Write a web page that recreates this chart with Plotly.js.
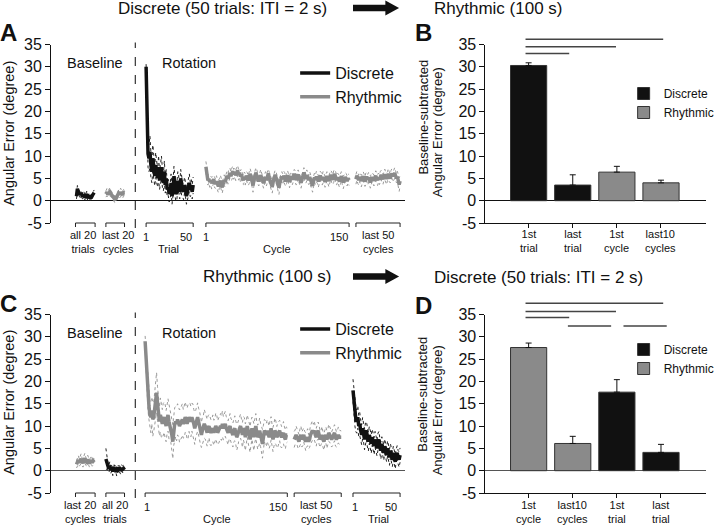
<!DOCTYPE html>
<html><head><meta charset="utf-8">
<script src="https://cdn.plot.ly/plotly-3.0.1.min.js"></script>
<style>html,body{margin:0;padding:0;background:#fff}</style>
</head><body><div id="chart" style="width:720px;height:525px"></div>
<script>
// ---------------- DATA ----------------
// Panel A: Discrete -> Rhythmic
const discBaseA = [1.0,2.7,2.0,1.6,1.3,1.7,1.1,0.9,1.4,0.7,1.1,1.5,0.6,1.0,1.2,0.5,0.8,1.0,1.5,1.8];
const seDiscBaseA = [0.6,0.7,0.6,0.5,0.6,0.5,0.6,0.5,0.6,0.5,0.5,0.6,0.5,0.6,0.5,0.6,0.5,0.6,0.5,0.6];
const rhyBaseA = [1.5,1.9,1.4,1.8,2.0,1.6,1.3,1.0,0.6,0.3,0.4,0.8,1.3,1.7,1.4,1.9,1.6,1.3,1.8,1.7];
const seRhyBaseA = [0.7,0.8,0.7,0.8,0.9,0.7,0.8,0.7,0.6,0.7,0.6,0.7,0.8,0.7,0.8,0.9,0.7,0.8,0.7,0.6];
const discRotA = [30.0,16.0,10.5,9.5,11.0,8.0,6.5,9.5,7.0,5.5,8.0,6.0,5.0,7.5,4.5,6.0,7.5,5.0,4.0,6.5,
  3.5,5.0,2.5,3.0,1.5,2.0,4.0,1.0,2.5,5.5,3.0,1.5,2.0,4.5,3.5,2.0,5.0,3.0,2.5,2.0,
  3.5,2.5,1.0,2.0,3.0,4.0,2.5,3.0,2.0,3.5];
const seDiscRotA = [0.6,2.5,3.0,3.0,3.5,2.8,2.5,3.0,2.5,2.2,2.8,2.4,2.0,2.6,2.0,2.2,2.5,2.0,1.8,2.4,
  1.8,2.0,1.6,1.8,1.8,1.6,2.0,1.8,1.8,2.2,1.8,1.6,1.8,2.0,1.8,1.6,2.0,1.8,1.6,1.8,
  1.8,1.6,1.8,1.6,1.8,2.0,1.6,1.8,1.6,1.8];
const rhyRotA = [7.6,5.8,4.6,4.9,4.2,4.5,3.9,4.4,4.8,4.1, 3.8,4.3,3.6,3.2,3.9,4.5,3.5,3.0,3.8,4.6,
  4.2,5.0,5.6,4.9,5.8,6.2,5.5,6.0,6.6,5.9, 6.4,5.7,6.1,6.8,5.8,6.3,5.4,5.9,5.0,4.6,
  5.3,4.8,5.6,5.1,4.5,5.2,6.0,5.4,4.2,3.4, 4.6,5.5,6.3,5.6,4.8,4.3,5.0,5.7,5.2,4.4,
  3.9,4.7,5.3,4.6,5.5,6.1,5.1,4.4,3.8,3.1, 4.2,5.0,5.8,5.2,4.5,3.7,2.9,4.1,4.9,5.4,
  4.8,5.6,5.0,4.3,5.1,5.7,4.9,4.2,5.0,5.5, 4.7,5.3,6.0,5.4,4.6,5.2,5.9,5.1,4.5,4.0,
  4.8,5.6,6.3,5.5,4.9,5.7,5.2,4.6,5.3,4.5, 3.8,3.3,4.4,5.2,4.7,5.4,4.9,4.3,5.0,5.6,
  5.1,4.6,5.3,4.8,4.2,4.9,5.5,5.0,4.4,5.1, 5.8,5.2,4.7,5.4,6.0,5.3,4.6,5.2,4.8,4.3,
  4.9,5.5,4.8,4.1,4.7,5.3,4.9,4.4,5.0,4.6];
const seRhyRotA = [1.2,1.0,1.1,0.9,1.2,1.0,1.3,1.1,0.9,1.2, 1.0,1.3,1.1,1.4,1.0,1.2,1.1,1.3,1.0,1.2,
  1.1,1.3,1.0,1.2,1.4,1.1,1.0,1.3,1.2,1.1, 1.0,1.2,1.3,1.1,1.2,1.0,1.3,1.1,1.2,1.0,
  1.1,1.3,1.0,1.2,1.1,1.4,1.2,1.0,1.3,1.5, 1.2,1.0,1.1,1.3,1.2,1.0,1.1,1.3,1.0,1.2,
  1.1,1.0,1.2,1.3,1.1,1.0,1.2,1.1,1.3,1.4, 1.2,1.1,1.0,1.2,1.3,1.1,1.5,1.2,1.0,1.1,
  1.2,1.0,1.3,1.1,1.2,1.0,1.1,1.3,1.2,1.0, 1.1,1.2,1.0,1.3,1.1,1.2,1.0,1.1,1.3,1.2,
  1.0,1.2,1.1,1.3,1.0,1.2,1.1,1.0,1.2,1.1, 1.3,1.4,1.2,1.0,1.1,1.2,1.0,1.3,1.1,1.0,
  1.2,1.1,1.3,1.0,1.2,1.1,1.0,1.2,1.3,1.1, 1.0,1.2,1.1,1.3,1.0,1.2,1.1,1.0,1.2,1.3,
  1.1,1.0,1.2,1.4,1.1,1.0,1.2,1.1,1.0,1.2];
const lastRhyA = [4.8,5.6,5.1,4.6,5.3,4.9,4.4,5.0,5.5,4.8, 4.3,4.9,5.4,4.7,5.2,4.6,4.1,4.8,5.3,4.9,
  4.5,5.1,5.6,5.0,4.6,5.2,4.7,5.3,5.8,5.2, 4.8,5.4,5.9,5.3,4.9,5.5,6.0,5.4,5.0,5.6,
  6.1,5.5,5.8,6.2,5.6,5.0,5.4,4.6,3.6,4.4];
const seLastRhyA = [1.1,1.0,1.2,1.1,1.0,1.2,1.3,1.1,1.0,1.2, 1.1,1.3,1.0,1.2,1.1,1.0,1.3,1.2,1.0,1.1,
  1.2,1.0,1.1,1.3,1.2,1.0,1.1,1.2,1.0,1.3, 1.1,1.0,1.2,1.1,1.3,1.0,1.2,1.1,1.0,1.2,
  1.1,1.3,1.0,1.2,1.1,1.0,1.2,1.3,1.5,1.2];

// Panel C: Rhythmic -> Discrete
const rhyBaseC = [1.4,2.0,2.4,1.8,2.2,2.7,2.0,1.7,2.3,2.8,2.1,1.9,2.5,2.2,1.6,2.0,2.4,1.8,2.2,1.9];
const seRhyBaseC = [0.8,0.9,1.0,0.8,0.9,1.1,0.8,0.9,1.0,1.1,0.9,0.8,1.0,0.9,0.8,0.9,1.0,0.8,0.9,0.8];
const discBaseC = [2.6,1.6,0.9,0.4,1.1,0.2,0.7,-0.2,0.8,0.3,0.6,-0.3,0.7,0.2,0.4,0.0,0.6,0.3,0.5,0.2];
const seDiscBaseC = [2.4,1.2,0.9,0.8,0.9,0.8,0.7,0.9,0.8,0.7,0.8,0.9,0.7,0.8,0.7,0.8,0.7,0.8,0.7,0.6];
const rhyRotC = [29.0,24.5,20.0,17.0,14.5,12.5,12.0,13.5,11.5,12.0, 14.0,16.5,17.5,15.0,12.0,11.0,12.5,11.0,10.5,11.5,
  12.0,11.0,10.0,11.5,12.5,11.0,10.0,9.5,8.0,6.5, 9.0,10.5,11.0,10.5,11.5,11.0,10.0,10.5,11.0,11.5,
  10.5,11.0,12.0,11.5,10.5,11.0,12.0,11.5,11.0,12.0, 11.5,10.5,9.5,10.5,11.5,12.0,11.0,10.0,9.0,8.0,
  9.0,9.5,10.5,10.0,9.0,8.5,9.5,10.0,9.0,8.5, 9.0,9.5,8.5,9.0,10.0,9.5,8.5,9.0,9.5,10.0,
  9.5,10.5,9.5,10.0,10.5,9.5,9.0,8.5,9.5,10.0, 9.0,8.5,8.0,9.0,9.5,8.5,7.5,8.0,9.0,9.5,
  10.0,9.0,8.0,9.5,9.0,7.5,8.5,10.0,9.0,8.0, 7.0,8.5,9.5,8.5,7.5,9.0,10.0,8.5,7.5,8.0,
  9.0,8.0,7.0,6.0,7.5,9.0,8.5,8.0,9.0,8.0, 7.5,8.5,9.5,8.0,7.0,8.0,9.0,8.5,7.5,8.0,
  8.5,9.0,8.0,7.5,8.0,8.5,7.5,7.0,8.0,8.0];
const seRhyRotC = [1.2,2.5,3.0,3.5,3.0,3.2,3.5,3.0,3.8,3.2, 3.5,4.0,4.5,3.8,3.5,3.2,3.8,3.5,3.2,3.6,
  3.4,3.8,3.5,3.2,3.6,3.9,3.4,3.2,3.5,3.8, 3.3,3.6,3.4,3.8,3.5,3.2,3.6,3.4,3.8,3.5,
  3.2,3.6,3.4,3.0,3.5,3.8,3.2,3.6,3.4,3.1, 3.5,3.2,3.6,3.0,3.4,3.2,3.0,3.4,3.1,2.8,
  3.0,2.8,3.2,2.9,2.7,3.0,2.8,2.6,3.1,2.9, 2.7,3.0,2.8,2.5,2.9,3.1,2.7,2.9,2.6,2.8,
  2.7,2.9,2.6,3.0,2.8,2.6,2.9,2.7,2.5,2.8, 2.6,2.9,2.7,2.5,2.8,2.6,2.9,2.7,2.5,2.8,
  2.7,2.5,2.8,2.6,2.9,3.0,2.7,2.5,2.8,2.6, 2.9,2.7,2.5,2.8,3.0,2.6,2.8,2.5,2.7,2.6,
  2.8,2.6,2.9,3.2,2.7,2.5,2.8,2.6,2.4,2.7, 2.5,2.8,2.6,2.4,2.7,2.5,2.8,2.6,2.4,2.7,
  2.5,2.3,2.6,2.4,2.2,2.5,2.3,2.1,1.8,1.6];
const lastRhyC = [7.0,7.5,8.0,7.5,7.0,6.5,7.5,8.0,7.0,7.5, 8.0,7.0,6.5,7.0,7.5,6.5,7.0,8.0,8.5,9.0,
  8.5,9.0,8.0,7.5,8.5,9.0,8.0,7.0,7.5,8.0, 7.0,6.5,7.5,8.0,7.0,7.5,8.5,8.0,7.5,7.0,
  7.5,8.0,8.5,7.5,7.0,7.5,8.0,7.5,7.5,7.5];
const seLastRhyC = [1.8,1.6,2.0,1.7,1.9,1.6,1.8,2.0,1.7,1.9, 1.6,1.8,2.0,1.7,1.9,1.6,1.8,2.1,2.0,2.2,
  1.9,2.1,1.8,2.0,1.7,1.9,2.1,1.8,1.6,1.9, 1.7,1.9,1.6,1.8,2.0,1.7,1.9,1.6,1.8,1.7,
  1.9,1.6,1.8,2.0,1.7,1.5,1.8,1.6,1.5,1.4];
const discRotC = [18.0,15.0,13.0,11.5,11.0,12.0,10.0,10.5,9.0,8.0, 9.5,8.5,7.0,8.5,9.0,7.5,6.5,8.0,7.0,6.0,
  7.5,6.5,5.5,7.0,6.0,5.0,6.5,7.0,5.5,4.5, 6.0,5.0,4.0,5.5,4.5,3.5,5.0,4.0,3.0,4.5,
  3.5,2.5,4.0,3.0,2.0,3.5,4.0,3.0,2.5,3.5];
const seDiscRotC = [2.5,3.5,3.0,2.8,2.6,2.5,2.4,2.6,2.3,2.2, 2.4,2.1,2.3,2.2,2.0,2.2,2.1,1.9,2.0,2.1,
  1.8,2.0,1.9,1.8,2.0,1.7,1.9,1.8,1.7,1.9, 1.6,1.8,1.7,1.6,1.8,1.5,1.7,1.6,1.8,1.5,
  1.7,1.6,1.5,1.7,1.6,1.4,1.6,1.5,1.7,1.6];

// Panel B bars
const catsB = ['1st<br>trial','last<br>trial','1st<br>cycle','last10<br>cycles'];
const discMeanB = [30.3, 3.5];
const discErrB = [0.6, 2.3];
const rhyMeanB = [6.4, 4.0];
const rhyErrB = [1.3, 0.6];
const sigPairsB = [[0,3],[0,2],[0,1]];
// Panel D bars
const catsD = ['1st<br>cycle','last10<br>cycles','1st<br>trial','last<br>trial'];
const rhyMeanD = [27.6, 6.1];
const rhyErrD = [1.0, 1.6];
const discMeanD = [17.6, 4.1];
const discErrD = [2.8, 1.8];
const sigPairsD = [[0,3],[0,2],[0,1],[1,2],[2,3]];
const yTicks = [-5, 0, 5, 10, 15, 20, 25, 30, 35];
const yTickText = ['-5', '0', '5', '10', '15', '20', '25', '30', '35'];

// ---------------- LAYOUT HELPERS ----------------
const W = 720, H = 525;
const FONT = 'Liberation Sans, Arial, Helvetica, sans-serif';
const px2x = p => p / W;
const px2y = p => 1 - p / H;
const rowA = {top: 44.5, bottom: 223};
const rowC = {top: 314.5, bottom: 493};
const BLACK = '#111111', GREY = '#8a8a8a', DOTGREY = '#9a9a9a';

function val2py(row, v) { return row.bottom - (v + 5) / 40 * (row.bottom - row.top); }

const traces = [];
function seg(vals, se, x0, x1, kind, xa, ya, legend, showLeg) {
  const n = vals.length;
  const xs = vals.map((_, i) => x0 + (x1 - x0) * i / (n - 1));
  const up = vals.map((v, i) => v + se[i]);
  const lo = vals.map((v, i) => v - se[i]);
  const col = kind === 'Discrete' ? BLACK : GREY;
  const dcol = kind === 'Discrete' ? '#222' : DOTGREY;
  [up, lo].forEach(arr => traces.push({type: 'scatter', mode: 'lines', x: xs, y: arr, xaxis: xa, yaxis: ya,
    line: {color: dcol, width: 1, dash: 'dot'}, showlegend: false, hoverinfo: 'skip'}));
  traces.push({type: 'scatter', mode: 'lines', x: xs, y: vals, xaxis: xa, yaxis: ya, name: kind,
    line: {color: col, width: 3.5}, legend: legend, showlegend: showLeg,
    legendrank: kind === 'Discrete' ? 1 : 2});
}

// Panel A segments (x in pixel-space of the panel axis)
seg(discBaseA, seDiscBaseA, 78, 96, 'Discrete', 'x', 'y', 'legend', false);
seg(rhyBaseA, seRhyBaseA, 108, 127, 'Rhythmic', 'x', 'y', 'legend', false);
seg(discRotA, seDiscRotA, 149, 197, 'Discrete', 'x', 'y', 'legend', true);
seg(rhyRotA, seRhyRotA, 210, 356, 'Rhythmic', 'x', 'y', 'legend', true);
seg(lastRhyA, seLastRhyA, 363, 408, 'Rhythmic', 'x', 'y', 'legend', false);
// Panel C segments
seg(rhyBaseC, seRhyBaseC, 78, 96, 'Rhythmic', 'x3', 'y3', 'legend3', false);
seg(discBaseC, seDiscBaseC, 108, 127, 'Discrete', 'x3', 'y3', 'legend3', false);
seg(rhyRotC, seRhyRotC, 148, 293, 'Rhythmic', 'x3', 'y3', 'legend3', true);
seg(lastRhyC, seLastRhyC, 300, 348, 'Rhythmic', 'x3', 'y3', 'legend3', false);
seg(discRotC, seDiscRotC, 360, 408, 'Discrete', 'x3', 'y3', 'legend3', true);

// Bars
function bars(x, y, err, kind, xa, ya, legend) {
  traces.push({type: 'bar', x: x, y: y, xaxis: xa, yaxis: ya, name: kind, legend: legend,
    width: 0.82, marker: {color: kind === 'Discrete' ? BLACK : GREY, line: {color: '#333', width: 1}},
    error_y: {type: 'data', symmetric: false, array: err, arrayminus: err.map(() => 0),
      color: '#111', thickness: 1, width: 3},
    legendrank: kind === 'Discrete' ? 1 : 2, hoverinfo: 'x+y'});
}
bars(catsB.slice(0, 2), discMeanB, discErrB, 'Discrete', 'x2', 'y2', 'legend2');
bars(catsB.slice(2, 4), rhyMeanB, rhyErrB, 'Rhythmic', 'x2', 'y2', 'legend2');
bars(catsD.slice(2, 4), discMeanD, discErrD, 'Discrete', 'x4', 'y4', 'legend4');
bars(catsD.slice(0, 2), rhyMeanD, rhyErrD, 'Rhythmic', 'x4', 'y4', 'legend4');

// ---------------- AXES ----------------
function yAxis(row, anchor, zc) {
  return {domain: [px2y(row.bottom), px2y(row.top)], range: [-5, 35], anchor: anchor,
    tickvals: yTicks, ticktext: yTickText, ticks: 'outside', ticklen: 5, tickcolor: '#111', showline: true, linecolor: '#111',
    linewidth: 1, zeroline: true, zerolinecolor: zc, zerolinewidth: 1.2, showgrid: false,
    tickfont: {size: 16, color: '#111', family: FONT}, fixedrange: true};
}
function lineX(anchor) {
  return {domain: [px2x(52), px2x(413)], range: [52, 413], anchor: anchor, visible: false,
    showgrid: false, zeroline: false, fixedrange: true};
}
function barX(anchor, cats) {
  return {domain: [px2x(495), 1], type: 'category', categoryorder: 'array', categoryarray: cats,
    range: [-0.98, 4.02], anchor: anchor, showline: true, linecolor: '#111', linewidth: 1,
    ticks: 'outside', ticklen: 4, tickcolor: '#111', showgrid: false, zeroline: false,
    showticklabels: false, fixedrange: true};
}

// ---------------- SHAPES ----------------
const shapes = [];
function bracket(xa, x0, x1, row) {
  const t = px2y(row.bottom), b = px2y(row.bottom + 4);
  shapes.push({type: 'path', xref: xa, yref: 'paper', path: `M${x0},${b} L${x0},${t} L${x1},${t} L${x1},${b}`,
    line: {color: '#222', width: 1}});
}
[[77, 97], [108, 127], [149, 197], [210, 356], [363, 408]].forEach(s => bracket('x', s[0], s[1], rowA));
[[77, 97], [108, 127], [148, 293], [300, 348], [360, 408]].forEach(s => bracket('x3', s[0], s[1], rowC));
// dashed separator
[['x', rowA], ['x3', rowC]].forEach(([xa, row]) => shapes.push({type: 'line', xref: xa, yref: 'paper',
  x0: 138, x1: 138, y0: px2y(row.bottom + 5), y1: px2y(row.top - 2), line: {color: '#333', width: 1.2, dash: 'dash'}}));
// significance lines
function sig(pairs, geom, xa, row) {
  pairs.forEach((p, i) => {
    const g = geom[i];
    const y = px2y(val2py(row, g.lvl));
    shapes.push({type: 'line', xref: xa, yref: 'paper', x0: p[0] + g.d0, x1: p[1] + g.d1, y0: y, y1: y,
      line: {color: '#444', width: 1.5}});
  });
}
sig(sigPairsB, [{lvl: 36.2, d0: -0.07, d1: 0.05}, {lvl: 34.5, d0: -0.07, d1: -0.02}, {lvl: 33.0, d0: -0.07, d1: -0.08}], 'x2', rowA);
sig(sigPairsD, [{lvl: 37.5, d0: -0.07, d1: 0.05}, {lvl: 35.7, d0: -0.07, d1: -0.02}, {lvl: 34.3, d0: -0.07, d1: -0.08},
  {lvl: 32.4, d0: -0.11, d1: -0.13}, {lvl: 32.4, d0: 0.15, d1: 0.13}], 'x4', rowC);
// arrows
function arrow(cy) {
  const p = (x, y) => `${px2x(x)},${px2y(y)}`;
  shapes.push({type: 'path', xref: 'paper', yref: 'paper', fillcolor: '#111', line: {width: 0},
    path: `M${p(360, cy - 3.2)} L${p(393, cy - 3.2)} L${p(393, cy - 7.5)} L${p(407, cy)} L${p(393, cy + 7.5)} L${p(393, cy + 3.2)} L${p(360, cy + 3.2)} Z`});
}
arrow(8); arrow(276.5);

// ---------------- ANNOTATIONS ----------------
const ann = [];
function txt(text, x, y, size, opts) {
  ann.push(Object.assign({text: text, x: px2x(x), y: px2y(y), xref: 'paper', yref: 'paper', showarrow: false,
    xanchor: 'center', yanchor: 'middle', font: {size: size, color: '#111', family: FONT}}, opts || {}));
}
// top titles
txt('Discrete (50 trials: ITI = 2 s)', 227, 8, 17);
txt('Rhythmic (100 s)', 508, 8, 17);
txt('Rhythmic (100 s)', 272, 276, 17);
txt('Discrete (50 trials: ITI = 2 s)', 549, 277, 17);
// panel letters
[['A', 9, 32], ['B', 432, 32], ['C', 9, 303], ['D', 432, 305]].forEach(l =>
  txt('<b>' + l[0] + '</b>', l[1], l[2], 24));
// phase labels
txt('Baseline', 97, 63, 14.5); txt('Rotation', 193, 63, 14.5);
txt('Baseline', 97, 333, 14.5); txt('Rotation', 193, 333, 14.5);
// y titles
txt('Angular Error (degree)', 9, 133, 14.5, {textangle: -90});
txt('Angular Error (degree)', 9, 402, 14.5, {textangle: -90});
txt('Baseline-subtracted', 431, 117, 13, {textangle: -90});
txt('Angular Error (degree)', 446, 132, 13, {textangle: -90});
txt('Baseline-subtracted', 430, 394, 13, {textangle: -90});
txt('Angular Error (degree)', 446, 410, 13, {textangle: -90});
// bracket labels
const LBL = 11;
function segLabels(row, items) {
  const y1 = row.bottom + 14, y2 = row.bottom + 26, yc = row.bottom + 19;
  items.forEach(it => {
    if (it.two) { txt(it.two, it.c, yc, LBL); }
    else {
      txt('1', it.s, y1, LBL);
      txt(it.n, it.e + 1, y1, LBL, {xanchor: 'right'});
      txt(it.name, it.c, y2, LBL);
    }
  });
}
segLabels(rowA, [{two: 'all 20<br>trials', c: 85}, {two: 'last 20<br>cycles', c: 120},
  {s: 149, e: 197, c: 172, n: '50', name: 'Trial'}, {s: 210, e: 356, c: 282, n: '150', name: 'Cycle'},
  {two: 'last 50<br>cycles', c: 386}]);
segLabels(rowC, [{two: 'last 20<br>cycles', c: 82}, {two: 'all 20<br>trials', c: 117},
  {s: 150, e: 294, c: 221, n: '150', name: 'Cycle'}, {two: 'last 50<br>cycles', c: 322},
  {s: 362, e: 406, c: 386, n: '50', name: 'Trial'}]);
// bar category labels (placed on the category axis)
function catLabels(cats, xa, row) {
  cats.forEach((c, i) => ann.push({text: c, x: i, xref: xa, y: px2y(row.bottom + 18.5), yref: 'paper',
    showarrow: false, xanchor: 'center', yanchor: 'middle', font: {size: LBL, color: '#111', family: FONT}}));
}
catLabels(catsB, 'x2', rowA);
catLabels(catsD, 'x4', rowC);

// ---------------- LEGENDS ----------------
function leg(x, y, size) {
  return {x: px2x(x), y: px2y(y), xref: 'paper', yref: 'paper', xanchor: 'left', yanchor: 'top',
    bgcolor: 'rgba(0,0,0,0)', borderwidth: 0, font: {size: size, color: '#111', family: FONT},
    traceorder: 'normal'};
}

const layout = {
  width: W, height: H, margin: {l: 0, r: 0, t: 0, b: 0}, paper_bgcolor: '#fff', plot_bgcolor: 'rgba(0,0,0,0)',
  font: {family: FONT, color: '#111'}, showlegend: true, barmode: 'overlay', hovermode: false,
  xaxis: lineX('y'), yaxis: yAxis(rowA, 'x', '#111'),
  xaxis2: barX('y2', catsB), yaxis2: yAxis(rowA, 'x2', '#111'),
  xaxis3: lineX('y3'), yaxis3: yAxis(rowC, 'x3', '#555'),
  xaxis4: barX('y4', catsD), yaxis4: yAxis(rowC, 'x4', '#555'),
  legend: leg(301, 56, 16), legend2: leg(636, 79, 12),
  legend3: leg(301, 312, 16), legend4: leg(636, 335, 12),
  shapes: shapes, annotations: ann
};
Plotly.newPlot('chart', traces, layout, {staticPlot: true, displayModeBar: false});
</script></body></html>
